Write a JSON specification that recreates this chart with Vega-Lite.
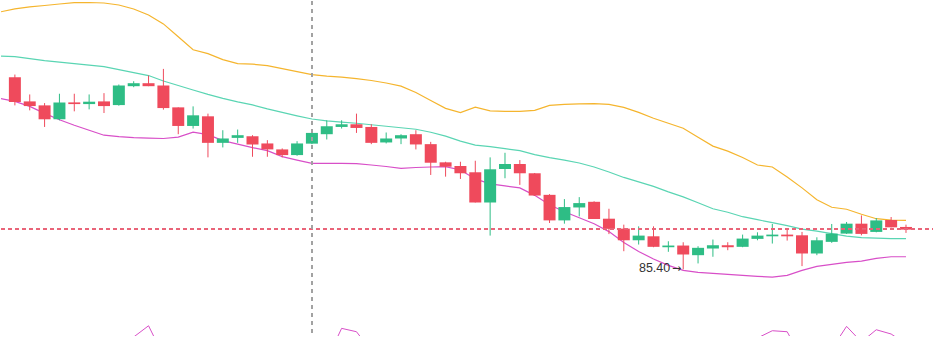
{
  "$schema": "https://vega.github.io/schema/vega-lite/v6.json",
  "width": 933,
  "height": 337,
  "padding": 0,
  "autosize": {"type": "fit", "contains": "padding"},
  "background": "#ffffff",
  "config": {"view": {"stroke": null}},
  "data": {"values": [
    {"i": -1, "o": null, "h": null, "l": null, "c": null, "up": 87.99, "mid": 87.545, "lo": 87.12, "ind": 84.45},
    {"i": 0, "o": 87.333, "h": 87.36, "l": 87.05, "c": 87.083, "up": 88.02, "mid": 87.54, "lo": 87.09, "ind": 84.45},
    {"i": 1, "o": 87.09, "h": 87.16, "l": 87.0, "c": 87.043, "up": 88.04, "mid": 87.52, "lo": 87.04, "ind": 84.45},
    {"i": 2, "o": 87.05, "h": 87.073, "l": 86.833, "c": 86.91, "up": 88.055, "mid": 87.5, "lo": 86.97, "ind": 84.45},
    {"i": 3, "o": 86.91, "h": 87.167, "l": 86.9, "c": 87.08, "up": 88.07, "mid": 87.485, "lo": 86.905, "ind": 84.45},
    {"i": 4, "o": 87.08, "h": 87.167, "l": 86.99, "c": 87.063, "up": 88.083, "mid": 87.47, "lo": 86.85, "ind": 84.45},
    {"i": 5, "o": 87.063, "h": 87.16, "l": 87.01, "c": 87.087, "up": 88.085, "mid": 87.455, "lo": 86.8, "ind": 84.45},
    {"i": 6, "o": 87.09, "h": 87.173, "l": 86.973, "c": 87.043, "up": 88.08, "mid": 87.44, "lo": 86.75, "ind": 84.45},
    {"i": 7, "o": 87.053, "h": 87.26, "l": 87.047, "c": 87.25, "up": 88.06, "mid": 87.41, "lo": 86.735, "ind": 84.45},
    {"i": 8, "o": 87.243, "h": 87.293, "l": 87.233, "c": 87.273, "up": 88.02, "mid": 87.38, "lo": 86.725, "ind": 84.72},
    {"i": 9, "o": 87.273, "h": 87.35, "l": 87.243, "c": 87.243, "up": 87.96, "mid": 87.35, "lo": 86.72, "ind": 84.833},
    {"i": 10, "o": 87.25, "h": 87.417, "l": 87.007, "c": 87.023, "up": 87.87, "mid": 87.295, "lo": 86.717, "ind": 84.53},
    {"i": 11, "o": 87.03, "h": 87.03, "l": 86.76, "c": 86.843, "up": 87.74, "mid": 87.25, "lo": 86.73, "ind": 84.45},
    {"i": 12, "o": 86.843, "h": 87.04, "l": 86.817, "c": 86.95, "up": 87.61, "mid": 87.205, "lo": 86.78, "ind": 84.45},
    {"i": 13, "o": 86.94, "h": 86.967, "l": 86.527, "c": 86.673, "up": 87.57, "mid": 87.16, "lo": 86.755, "ind": 84.45},
    {"i": 14, "o": 86.673, "h": 86.8, "l": 86.627, "c": 86.717, "up": 87.51, "mid": 87.12, "lo": 86.695, "ind": 84.45},
    {"i": 15, "o": 86.723, "h": 86.807, "l": 86.673, "c": 86.75, "up": 87.47, "mid": 87.085, "lo": 86.66, "ind": 84.45},
    {"i": 16, "o": 86.74, "h": 86.75, "l": 86.533, "c": 86.657, "up": 87.465, "mid": 87.055, "lo": 86.625, "ind": 84.45},
    {"i": 17, "o": 86.667, "h": 86.7, "l": 86.533, "c": 86.607, "up": 87.45, "mid": 87.015, "lo": 86.595, "ind": 84.45},
    {"i": 18, "o": 86.607, "h": 86.617, "l": 86.527, "c": 86.55, "up": 87.42, "mid": 86.98, "lo": 86.535, "ind": 84.45},
    {"i": 19, "o": 86.55, "h": 86.69, "l": 86.543, "c": 86.667, "up": 87.39, "mid": 86.945, "lo": 86.5, "ind": 84.45},
    {"i": 20, "o": 86.665, "h": 86.783, "l": 86.66, "c": 86.773, "up": 87.36, "mid": 86.913, "lo": 86.467, "ind": 84.45},
    {"i": 21, "o": 86.76, "h": 86.9, "l": 86.707, "c": 86.84, "up": 87.345, "mid": 86.895, "lo": 86.467, "ind": 84.49},
    {"i": 22, "o": 86.833, "h": 86.9, "l": 86.817, "c": 86.86, "up": 87.335, "mid": 86.882, "lo": 86.467, "ind": 84.807},
    {"i": 23, "o": 86.86, "h": 86.967, "l": 86.773, "c": 86.823, "up": 87.32, "mid": 86.87, "lo": 86.465, "ind": 84.773},
    {"i": 24, "o": 86.833, "h": 86.86, "l": 86.66, "c": 86.673, "up": 87.3, "mid": 86.855, "lo": 86.45, "ind": 84.58},
    {"i": 25, "o": 86.677, "h": 86.777, "l": 86.667, "c": 86.717, "up": 87.275, "mid": 86.84, "lo": 86.435, "ind": 84.45},
    {"i": 26, "o": 86.717, "h": 86.76, "l": 86.66, "c": 86.75, "up": 87.243, "mid": 86.825, "lo": 86.417, "ind": 84.45},
    {"i": 27, "o": 86.76, "h": 86.8, "l": 86.607, "c": 86.657, "up": 87.18, "mid": 86.81, "lo": 86.425, "ind": 84.45},
    {"i": 28, "o": 86.66, "h": 86.683, "l": 86.35, "c": 86.473, "up": 87.1, "mid": 86.78, "lo": 86.43, "ind": 84.45},
    {"i": 29, "o": 86.477, "h": 86.483, "l": 86.333, "c": 86.433, "up": 87.02, "mid": 86.74, "lo": 86.433, "ind": 84.45},
    {"i": 30, "o": 86.44, "h": 86.483, "l": 86.31, "c": 86.367, "up": 86.977, "mid": 86.69, "lo": 86.4, "ind": 84.45},
    {"i": 31, "o": 86.377, "h": 86.493, "l": 86.073, "c": 86.073, "up": 87.033, "mid": 86.65, "lo": 86.31, "ind": 84.45},
    {"i": 32, "o": 86.073, "h": 86.527, "l": 85.74, "c": 86.407, "up": 86.995, "mid": 86.635, "lo": 86.26, "ind": 84.45},
    {"i": 33, "o": 86.41, "h": 86.573, "l": 86.317, "c": 86.46, "up": 86.99, "mid": 86.615, "lo": 86.24, "ind": 84.45},
    {"i": 34, "o": 86.46, "h": 86.5, "l": 86.25, "c": 86.367, "up": 86.99, "mid": 86.595, "lo": 86.22, "ind": 84.45},
    {"i": 35, "o": 86.367, "h": 86.37, "l": 86.14, "c": 86.143, "up": 87.0, "mid": 86.555, "lo": 86.145, "ind": 84.45},
    {"i": 36, "o": 86.15, "h": 86.157, "l": 85.867, "c": 85.893, "up": 87.05, "mid": 86.525, "lo": 86.05, "ind": 84.45},
    {"i": 37, "o": 85.893, "h": 86.107, "l": 85.86, "c": 86.027, "up": 87.06, "mid": 86.5, "lo": 85.98, "ind": 84.45},
    {"i": 38, "o": 86.023, "h": 86.127, "l": 85.933, "c": 86.067, "up": 87.065, "mid": 86.47, "lo": 85.92, "ind": 84.45},
    {"i": 39, "o": 86.08, "h": 86.085, "l": 85.907, "c": 85.907, "up": 87.067, "mid": 86.43, "lo": 85.86, "ind": 84.45},
    {"i": 40, "o": 85.91, "h": 86.01, "l": 85.755, "c": 85.808, "up": 87.06, "mid": 86.38, "lo": 85.78, "ind": 84.45},
    {"i": 41, "o": 85.81, "h": 85.85, "l": 85.583, "c": 85.693, "up": 87.03, "mid": 86.325, "lo": 85.67, "ind": 84.45},
    {"i": 42, "o": 85.693, "h": 85.833, "l": 85.65, "c": 85.74, "up": 86.98, "mid": 86.28, "lo": 85.58, "ind": 84.45},
    {"i": 43, "o": 85.733, "h": 85.833, "l": 85.623, "c": 85.627, "up": 86.92, "mid": 86.235, "lo": 85.505, "ind": 84.45},
    {"i": 44, "o": 85.623, "h": 85.683, "l": 85.577, "c": 85.64, "up": 86.87, "mid": 86.18, "lo": 85.44, "ind": 84.45},
    {"i": 45, "o": 85.64, "h": 85.673, "l": 85.4, "c": 85.55, "up": 86.82, "mid": 86.13, "lo": 85.39, "ind": 84.45},
    {"i": 46, "o": 85.543, "h": 85.633, "l": 85.46, "c": 85.617, "up": 86.73, "mid": 86.07, "lo": 85.37, "ind": 84.45},
    {"i": 47, "o": 85.61, "h": 85.7, "l": 85.527, "c": 85.643, "up": 86.64, "mid": 86.01, "lo": 85.36, "ind": 84.45},
    {"i": 48, "o": 85.643, "h": 85.673, "l": 85.593, "c": 85.623, "up": 86.59, "mid": 85.975, "lo": 85.35, "ind": 84.45},
    {"i": 49, "o": 85.627, "h": 85.75, "l": 85.623, "c": 85.71, "up": 86.525, "mid": 85.93, "lo": 85.34, "ind": 84.45},
    {"i": 50, "o": 85.707, "h": 85.773, "l": 85.693, "c": 85.74, "up": 86.45, "mid": 85.9, "lo": 85.33, "ind": 84.71},
    {"i": 51, "o": 85.733, "h": 85.857, "l": 85.66, "c": 85.75, "up": 86.43, "mid": 85.87, "lo": 85.323, "ind": 84.783},
    {"i": 52, "o": 85.75, "h": 85.81, "l": 85.69, "c": 85.733, "up": 86.33, "mid": 85.84, "lo": 85.34, "ind": 84.773},
    {"i": 53, "o": 85.743, "h": 85.777, "l": 85.433, "c": 85.56, "up": 86.22, "mid": 85.805, "lo": 85.39, "ind": 84.5},
    {"i": 54, "o": 85.56, "h": 85.723, "l": 85.543, "c": 85.693, "up": 86.1, "mid": 85.785, "lo": 85.43, "ind": 84.45},
    {"i": 55, "o": 85.677, "h": 85.857, "l": 85.667, "c": 85.76, "up": 86.025, "mid": 85.76, "lo": 85.45, "ind": 84.6},
    {"i": 56, "o": 85.76, "h": 85.877, "l": 85.757, "c": 85.86, "up": 86.005, "mid": 85.735, "lo": 85.47, "ind": 84.827},
    {"i": 57, "o": 85.86, "h": 85.943, "l": 85.743, "c": 85.757, "up": 85.955, "mid": 85.72, "lo": 85.483, "ind": 84.67},
    {"i": 58, "o": 85.777, "h": 85.917, "l": 85.773, "c": 85.893, "up": 85.91, "mid": 85.715, "lo": 85.51, "ind": 84.793},
    {"i": 59, "o": 85.897, "h": 85.927, "l": 85.823, "c": 85.823, "up": 85.895, "mid": 85.71, "lo": 85.527, "ind": 84.75},
    {"i": 60, "o": 85.827, "h": 85.85, "l": 85.767, "c": 85.8, "up": 85.893, "mid": 85.71, "lo": 85.527, "ind": 84.65}
  ]},
  "encoding": {
    "x": {"field": "i", "type": "quantitative", "scale": {"domain": [-0.598, 61.415], "nice": false, "zero": false}, "axis": null}
  },
  "layer": [
    {
      "mark": {"type": "line", "color": "#f5b52e", "strokeWidth": 1.2, "clip": true},
      "encoding": {"y": {"field": "up", "type": "quantitative", "scale": {"domain": [84.73, 88.1], "nice": false, "zero": false}, "axis": null}}
    },
    {
      "mark": {"type": "line", "color": "#5ad5b3", "strokeWidth": 1.2, "clip": true},
      "encoding": {"y": {"field": "mid", "type": "quantitative", "scale": {"domain": [84.73, 88.1], "nice": false, "zero": false}, "axis": null}}
    },
    {
      "mark": {"type": "line", "color": "#d84fc8", "strokeWidth": 1.2, "clip": true},
      "encoding": {"y": {"field": "lo", "type": "quantitative", "scale": {"domain": [84.73, 88.1], "nice": false, "zero": false}, "axis": null}}
    },
    {
      "mark": {"type": "line", "color": "#d84fc8", "strokeWidth": 1, "clip": true},
      "encoding": {"y": {"field": "ind", "type": "quantitative", "scale": {"domain": [84.73, 88.1], "nice": false, "zero": false}, "axis": null}}
    },
    {
      "transform": [{"filter": "isValid(datum.o)"}],
      "mark": {"type": "rule", "strokeWidth": 1, "clip": true},
      "encoding": {
        "y": {"field": "l", "type": "quantitative", "scale": {"domain": [84.73, 88.1], "nice": false, "zero": false}, "axis": null},
        "y2": {"field": "h"},
        "color": {"condition": {"test": "datum.c >= datum.o", "value": "#2ebd85"}, "value": "#ef4a5c"}
      }
    },
    {
      "transform": [{"filter": "isValid(datum.o)"}],
      "mark": {"type": "bar", "width": 12, "orient": "vertical", "clip": true},
      "encoding": {
        "y": {"field": "o", "type": "quantitative", "scale": {"domain": [84.73, 88.1], "nice": false, "zero": false}, "axis": null},
        "y2": {"field": "c"},
        "color": {"condition": {"test": "datum.c >= datum.o", "value": "#2ebd85"}, "value": "#ef4a5c"}
      }
    },
    {
      "mark": {"type": "rule", "color": "#e8667a", "strokeWidth": 1, "strokeDash": [4, 3]},
      "encoding": {"y": {"datum": 85.81, "type": "quantitative", "scale": {"domain": [84.73, 88.1], "nice": false, "zero": false}, "axis": null}, "x": {"value": 0}, "x2": {"value": 933}}
    },
    {
      "mark": {"type": "rule", "color": "#a3a3a3", "strokeWidth": 1, "strokeDash": [4, 4]},
      "encoding": {"x": {"datum": 20, "type": "quantitative"}, "y": {"value": 0}, "y2": {"value": 337}}
    },
    {
      "transform": [{"filter": "datum.i == 45"}],
      "mark": {"type": "text", "align": "right", "baseline": "middle", "dx": -13, "dy": -1, "fontSize": 12.5, "font": "Liberation Sans", "color": "#333333"},
      "encoding": {
        "y": {"field": "l", "type": "quantitative", "scale": {"domain": [84.73, 88.1], "nice": false, "zero": false}, "axis": null},
        "text": {"value": "85.40"}
      }
    },
    {
      "transform": [{"filter": "datum.i == 45"}],
      "mark": {"type": "text", "align": "right", "baseline": "middle", "dx": -2, "dy": 0, "fontSize": 11, "font": "DejaVu Sans", "color": "#333333"},
      "encoding": {
        "y": {"field": "l", "type": "quantitative", "scale": {"domain": [84.73, 88.1], "nice": false, "zero": false}, "axis": null},
        "text": {"value": "→"}
      }
    }
  ]
}
